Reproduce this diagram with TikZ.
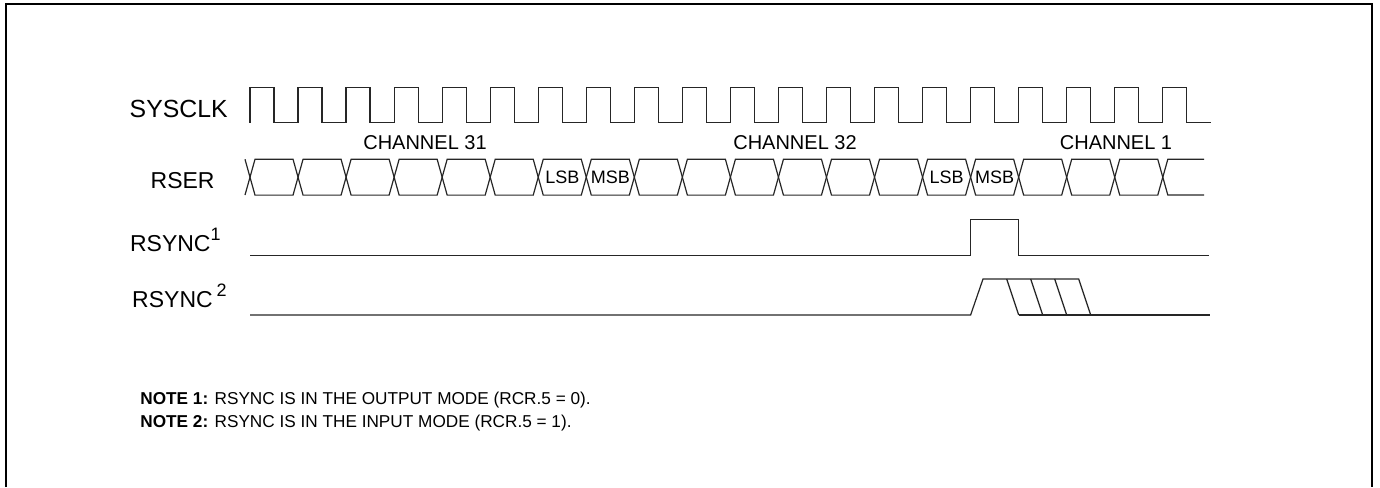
\documentclass[tikz,border=0pt]{standalone}
\usepackage{fontspec}
\setmainfont{Liberation Sans}

\begin{document}
\begin{tikzpicture}[x=0.5pt, y=-0.5pt,
    wave/.style={line width=0.6pt, black!85, line join=miter},
    sig/.style={font=\fontsize{11.5}{13}\selectfont, inner sep=0pt},
    chan/.style={font=\fontsize{10}{12}\selectfont, inner sep=0pt},
    bit/.style={font=\fontsize{9}{11}\selectfont, inner sep=0pt},
    note/.style={font=\fontsize{8.6}{10}\selectfont, inner sep=0pt, anchor=base west}]

  \useasboundingbox (0,0) rectangle (1380,487);

  % frame
  \draw[line width=1pt] (6,487) -- (6,3.5) -- (1372,3.5) -- (1372,487);

  % signal names
  \node[sig, anchor=base east, font=\fontsize{12.4}{14}\selectfont] (sysclk) at (228,117.3) {SYSCLK};
  \node[sig, anchor=base east] (rser) at (215,188.3) {RSER};
  \node[sig, anchor=base east] (rsynca) at (221,251)
    {RSYNC\raisebox{5.5pt}{\fontsize{9}{9}\selectfont 1}};
  \node[sig, anchor=base east] (rsyncb) at (227,307.3)
    {RSYNC\,\raisebox{5.5pt}{\fontsize{9}{9}\selectfont 2}};

  % SYSCLK
  \foreach \k in {0,...,19} {
    \draw[wave] (250+48.04*\k,122.7) -- ++(0,-35.4) -- ++(24,0) -- ++(0,35.4) -- ++(24.04,0);
  }

  % RSER
  \draw[wave] (245,159.3) -- (250,177.2) -- (245,195);
  \foreach \k in {0,...,18} {
    \draw[wave] (250+48.04*\k,177.2) -- ++(5,-17.9) -- ++(38.04,0) -- ++(5,17.9)
      -- ++(-5,17.9) -- ++(-38.04,0) -- cycle;
  }
  \draw[wave] (1204,159.3) -- (1167.8,159.3) -- (1162.8,177.2) -- (1167.8,195) -- (1204,195);

  \node[chan, anchor=base] (ch31) at (425,149) {CHANNEL 31};
  \node[chan, anchor=base] (ch32) at (795,149) {CHANNEL 32};
  \node[chan, anchor=base] (ch1) at (1116,149) {CHANNEL 1};

  \node[bit, anchor=base] (lsba) at (562.3,183.3) {LSB};
  \node[bit, anchor=base] (msba) at (610.3,183.3) {MSB};
  \node[bit, anchor=base] (lsbb) at (946.6,183.3) {LSB};
  \node[bit, anchor=base] (msbb) at (994.6,183.3) {MSB};

  % RSYNC, output mode
  \draw[wave] (250,255.7) -- (970.6,255.7) -- (970.6,219.3) -- (1018.7,219.3)
    -- (1018.7,255.7) -- (1209,255.7);

  % RSYNC, input mode
  \draw[wave] (250,315) -- (970.6,315) -- (983,279) -- (1078.7,279) -- (1090.7,315);
  \foreach \j in {0,1,2} {
    \draw[wave] (1006.7+24*\j,279) -- ++(12,36);
  }
  \draw[wave] (1018.7,315) -- (1210,315);

  % notes
  \node[note] (notea) at (140,404) {\textbf{NOTE 1:} RSYNC IS IN THE OUTPUT MODE (RCR.5 = 0).};
  \node[note] (noteb) at (140,427) {\textbf{NOTE 2:} RSYNC IS IN THE INPUT MODE (RCR.5 = 1).};

\end{tikzpicture}
\end{document}
